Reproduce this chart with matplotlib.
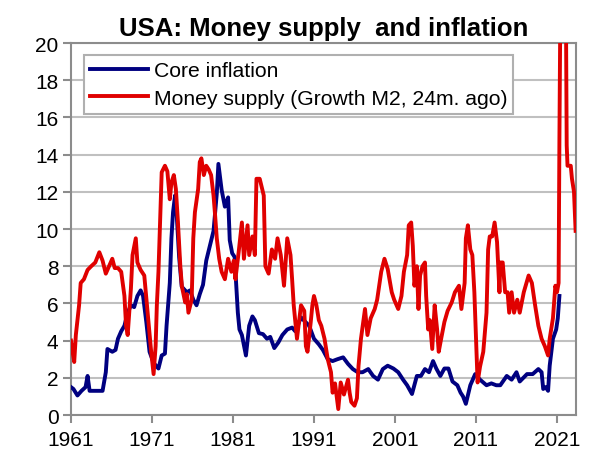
import matplotlib
matplotlib.use('Agg')
import matplotlib.pyplot as plt
import numpy as np

plt.rcParams['font.family'] = ['Liberation Sans', 'DejaVu Sans']

# core inflation (navy)
core_years = [1961.0, 1961.3, 1961.8, 1962.3, 1962.8, 1963.05, 1963.3, 1963.8, 1964.5, 1964.9,
              1965.3, 1965.5, 1966.1, 1966.5, 1966.8, 1967.2, 1967.6, 1968.0, 1968.4, 1968.8,
              1969.2, 1969.6, 1969.9, 1970.3, 1970.7, 1971.2, 1971.8, 1972.2, 1972.6, 1972.8,
              1973.2, 1973.4, 1973.6, 1973.85, 1974.05, 1974.35, 1974.67, 1975.3, 1975.7, 1976.1,
              1976.5, 1976.9, 1977.3, 1977.7, 1978.2, 1978.6, 1979.0, 1979.2, 1979.4, 1979.6,
              1980.0, 1980.4, 1980.6, 1980.9, 1981.2, 1981.4, 1981.6, 1981.8, 1982.1, 1982.6,
              1983.0, 1983.4, 1983.7, 1984.2, 1984.7, 1985.2, 1985.6, 1986.1, 1986.6, 1987.1,
              1987.7, 1988.3, 1988.7, 1989.4, 1989.8, 1990.4, 1991.0, 1991.6, 1992.1, 1992.7,
              1993.3, 1993.9, 1994.6, 1995.2, 1995.8, 1996.4, 1997.0, 1997.7, 1998.3, 1998.9,
              1999.5, 2000.1, 2000.8, 2001.4, 2002.0, 2002.5, 2003.1, 2003.7, 2004.2, 2004.7,
              2005.2, 2005.7, 2006.1, 2006.6, 2007.1, 2007.6, 2008.1, 2008.7, 2009.1, 2009.4,
              2009.75, 2010.3, 2010.9, 2011.5, 2012.3, 2012.9, 2013.5, 2014.0, 2014.8, 2015.4,
              2016.0, 2016.4, 2017.3, 2018.0, 2018.7, 2019.1, 2019.3, 2019.6, 2019.9, 2020.1,
              2020.5, 2020.9, 2021.1, 2021.3]
core_vals = [1.5, 1.4, 1.05, 1.3, 1.5, 2.1, 1.3, 1.3, 1.3, 1.3,
             2.3, 3.55, 3.4, 3.5, 4.1, 4.5, 4.8, 5.5, 5.9, 5.8,
             6.4, 6.7, 6.4, 5.0, 3.4, 2.8, 2.5, 3.2, 3.3, 4.8,
             7.1, 9.5, 10.9, 11.8, 10.8, 8.5, 6.9, 6.6, 6.7, 6.2,
             5.9, 6.5, 7.0, 8.3, 9.2, 9.9, 11.9, 13.5, 12.8, 12.1,
             11.2, 11.7, 9.4, 8.7, 8.5, 7.0, 5.5, 4.6, 4.3, 3.2,
             4.8, 5.3, 5.1, 4.4, 4.35, 4.1, 4.2, 3.6, 3.9, 4.3,
             4.6, 4.7, 4.5, 5.25, 5.07, 4.8, 4.1, 3.8, 3.5, 3.0,
             2.9, 3.0, 3.1, 2.75, 2.47, 2.3, 2.3, 2.47, 2.1, 1.9,
             2.47, 2.65, 2.5, 2.3, 1.9, 1.6, 1.13, 2.1, 2.1, 2.47,
             2.3, 2.9, 2.5, 2.1, 2.5, 2.5, 1.8, 1.6, 1.2, 1.0,
             0.6, 1.6, 2.2, 1.9, 1.6, 1.7, 1.6, 1.6, 2.1, 1.9,
             2.3, 1.8, 2.2, 2.2, 2.47, 2.3, 1.4, 1.5, 1.3, 2.65,
             4.1, 4.6, 5.2, 6.4]

# money supply growth (M2, 24 months ago), red
m2_years = [1961.0, 1961.2, 1961.4, 1961.6, 1962.0, 1962.2, 1962.6, 1963.05, 1963.5, 1964.0,
            1964.5, 1964.9, 1965.3, 1965.7, 1966.1, 1966.4, 1966.8, 1967.2, 1967.6, 1967.8,
            1968.0, 1968.4, 1968.6, 1969.0, 1969.2, 1969.6, 1970.05, 1970.5, 1970.9, 1971.2,
            1971.45, 1971.6, 1971.8, 1972.0, 1972.2, 1972.6, 1972.9, 1973.2, 1973.4, 1973.7,
            1973.95, 1974.2, 1974.5, 1974.7, 1975.1, 1975.3, 1975.5, 1975.9, 1976.1, 1976.3,
            1976.7, 1976.9, 1977.1, 1977.4, 1977.7, 1978.0, 1978.3, 1978.6, 1978.8, 1979.0,
            1979.3, 1979.6, 1980.0, 1980.4, 1980.8, 1981.1, 1981.3, 1981.7, 1982.1, 1982.35,
            1982.8, 1983.0, 1983.4, 1983.7, 1983.9, 1984.3, 1984.8, 1984.9, 1985.0, 1985.4,
            1985.8, 1986.2, 1986.5, 1986.9, 1987.3, 1987.7, 1988.1, 1988.3, 1988.5, 1988.9,
            1989.4, 1989.8, 1990.0, 1990.2, 1990.6, 1990.8, 1991.0, 1991.3, 1991.6, 1991.9,
            1992.3, 1992.7, 1993.1, 1993.3, 1993.6, 1994.0, 1994.3, 1994.7, 1995.2, 1995.4,
            1995.6, 1996.0, 1996.3, 1996.5, 1996.8, 1997.3, 1997.6, 1998.0, 1998.5, 1998.8,
            1999.3, 1999.7, 2000.1, 2000.6, 2000.9, 2001.4, 2001.8, 2002.1, 2002.5, 2002.7,
            2003.0, 2003.2, 2003.4, 2003.7, 2003.9, 2004.1, 2004.4, 2004.7, 2004.85, 2005.1,
            2005.3, 2005.6, 2005.9, 2006.2, 2006.4, 2006.7, 2007.1, 2007.5, 2008.0, 2008.4,
            2008.9, 2009.2, 2009.6, 2009.75, 2010.0, 2010.3, 2010.55, 2010.8, 2011.0, 2011.2,
            2011.5, 2011.9, 2012.3, 2012.5, 2012.7, 2013.0, 2013.3, 2013.6, 2013.9, 2014.0,
            2014.3, 2014.6, 2014.9, 2015.1, 2015.4, 2015.7, 2016.1, 2016.4, 2016.9, 2017.5,
            2017.9, 2018.3, 2018.7, 2019.1, 2019.5, 2019.9, 2020.1, 2020.5, 2020.8, 2021.0,
            2021.2, 2021.3, 2021.45, 2021.8, 2022.05, 2022.2, 2022.3, 2022.7, 2022.85, 2023.1,
            2023.3]
m2_vals = [4.0, 3.4, 2.85, 4.3, 5.9, 7.1, 7.3, 7.8, 8.0, 8.2,
           8.75, 8.3, 7.6, 8.0, 8.4, 7.9, 7.9, 7.7, 6.4, 4.8,
           4.3, 6.8, 8.6, 9.5, 8.2, 7.8, 7.5, 5.3, 3.4, 2.2,
           3.7, 5.9, 7.7, 10.4, 13.05, 13.4, 13.1, 11.6, 12.5, 12.9,
           12.15, 10.4, 8.0, 6.9, 6.05, 6.5, 5.5, 6.2, 9.5, 10.9,
           12.15, 13.6, 13.8, 12.9, 13.4, 13.2, 12.9, 11.8, 10.7, 9.5,
           8.4, 7.7, 7.3, 8.4, 7.7, 8.3, 7.3, 8.75, 10.35, 8.4,
           10.2, 8.6, 9.6, 8.6, 12.7, 12.7, 11.8, 10.0, 8.0, 7.6,
           8.9, 8.4, 9.5, 8.6, 6.95, 9.5, 8.6, 7.3, 5.9, 4.1,
           5.9, 5.6, 3.7, 3.4, 5.0, 5.9, 6.4, 5.9, 5.1, 4.8,
           4.1, 3.0, 2.3, 1.2, 1.7, 0.32, 1.75, 1.1, 1.9, 1.2,
           0.7, 0.5, 0.9, 2.65, 4.1, 5.7, 4.3, 5.2, 5.7, 6.2,
           7.7, 8.4, 7.85, 6.6, 6.2, 5.7, 6.4, 7.7, 8.6, 10.2,
           10.35, 9.1, 6.95, 8.0, 5.7, 7.5, 8.0, 8.2, 6.4, 4.6,
           5.1, 3.55, 5.9, 4.6, 3.4, 4.1, 5.0, 5.6, 6.05, 6.6,
           6.95, 5.7, 7.1, 9.5, 10.2, 8.9, 8.6, 6.6, 4.1, 1.75,
           2.6, 3.4, 5.5, 8.9, 9.6, 9.6, 10.35, 9.3, 6.6, 8.2,
           8.2, 6.6, 6.6, 5.5, 6.6, 5.5, 6.2, 5.5, 6.6, 7.5,
           7.1, 5.9, 4.8, 4.1, 3.7, 3.2, 4.1, 5.2, 6.95, 6.6,
           7.1, 14.8, 24.0, 27.0, 26.0, 14.5, 13.4, 13.4, 12.7, 12.0,
           9.9]

year_ticks = [1961, 1971, 1981, 1991, 2001, 2011, 2021]
y_ticks = np.arange(0, 21, 2)

fig = plt.figure(figsize=(5.9, 4.56), dpi=100)
ax = fig.add_axes([0.1203, 0.0877, 0.8560, 0.8158])

ax.plot(core_years, core_vals, color='#000080', lw=2.8, label='Core inflation', zorder=3)
ax.plot(m2_years, m2_vals, color='#e00000', lw=2.8, label='Money supply (Growth M2, 24m. ago)', zorder=4)

ax.set_xlim(1961, 2023.35)
ax.set_ylim(0, 20)
ax.set_xticks(year_ticks)
ax.set_xticklabels([str(y) for y in year_ticks])
ax.set_yticks(y_ticks)
ax.set_yticklabels([str(v) for v in y_ticks])
ax.tick_params(axis='both', labelsize=15, colors='#8c8c8c', labelcolor='black', width=1.5, length=6, direction='out')
ax.tick_params(axis='y', pad=3)
ax.tick_params(axis='x', pad=5)

ax.grid(axis='y', color='#c0c0c0', lw=1.5)
ax.set_axisbelow(True)
for s in ax.spines.values():
    s.set_color('#8c8c8c')
    s.set_linewidth(1.5)

ax.set_title('USA: Money supply  and inflation', fontsize=18.5, fontweight='bold', pad=6)

leg = ax.legend(loc='upper left', bbox_to_anchor=(0.0257, 0.968), borderaxespad=0,
                fontsize=15.2, fancybox=False, framealpha=1, edgecolor='#b0b0b0',
                handlelength=2.75, handletextpad=0.25, labelspacing=0.4, borderpad=0.3)
leg.get_frame().set_linewidth(1.5)

plt.savefig('out.png', dpi=100)
